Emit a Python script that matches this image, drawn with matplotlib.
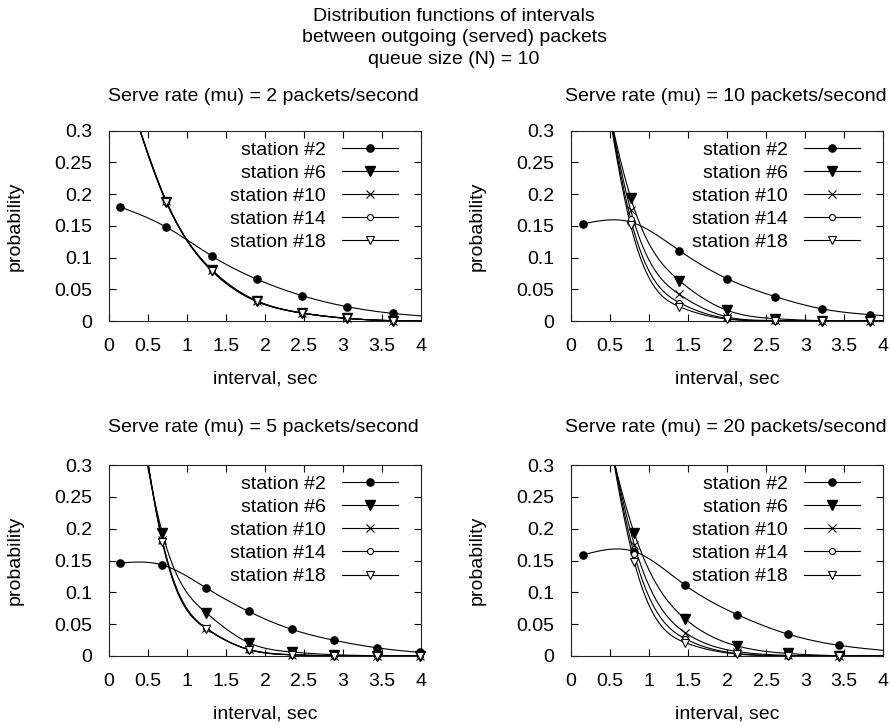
import numpy as np
import matplotlib
matplotlib.use("Agg")
import matplotlib.pyplot as plt
from matplotlib.lines import Line2D

plt.rcParams['font.family'] = ['Liberation Sans', 'DejaVu Sans']

# ---------------- data ----------------
stations = ["station #2", "station #6", "station #10", "station #14", "station #18"]
titles = ["Serve rate (mu) = 2 packets/second", "Serve rate (mu) = 10 packets/second",
          "Serve rate (mu) = 5 packets/second", "Serve rate (mu) = 20 packets/second"]
suptitle = "Distribution functions of intervals\nbetween outgoing (served) packets\nqueue size (N) = 10"
xticks = [0, 0.5, 1, 1.5, 2, 2.5, 3, 3.5, 4]
xtick_labels = ["0", "0.5", "1", "1.5", "2", "2.5", "3", "3.5", "4"]
yticks = [0, 0.05, 0.1, 0.15, 0.2, 0.25, 0.3]
ytick_labels = ["0", "0.05", "0.1", "0.15", "0.2", "0.25", "0.3"]

# mu = 2
x_mu2 = [0.141, 0.735, 1.316, 1.893, 2.474, 3.05, 3.637, 4.22]
mu2_s2 = [0.180, 0.148, 0.1025, 0.066, 0.040, 0.0226, 0.012, 0.006]
mu2_s6 = [0.40, 0.188, 0.080, 0.0315, 0.0126, 0.0042, 0.0005, 0.0001]
mu2_s10 = [0.402, 0.189, 0.080, 0.031, 0.0125, 0.0040, 0.0006, 0.0001]
mu2_s14 = [0.401, 0.187, 0.081, 0.032, 0.0127, 0.0043, 0.0005, 0.0]
mu2_s18 = [0.400, 0.188, 0.079, 0.031, 0.0124, 0.0041, 0.0004, 0.0]

# mu = 10
x_mu10 = [0.149, 0.764, 1.387, 2.0, 2.616, 3.22, 3.83, 4.44]
mu10_s2 = [0.153, 0.156, 0.111, 0.0667, 0.0384, 0.019, 0.010, 0.005]
mu10_s6 = [0.55, 0.1945, 0.0636, 0.0168, 0.0037, 0.0005, 0.0, 0.0]
mu10_s10 = [0.59, 0.175, 0.042, 0.0065, 0.001, 0.0, 0.0, 0.0]
mu10_s14 = [0.61, 0.161, 0.029, 0.004, 0.0005, 0.0, 0.0, 0.0]
mu10_s18 = [0.62, 0.151, 0.0226, 0.003, 0.0003, 0.0, 0.0, 0.0]

# mu = 5
x_mu5 = [0.141, 0.684, 1.244, 1.79, 2.34, 2.89, 3.43, 3.99, 4.54]
mu5_s2 = [0.146, 0.143, 0.107, 0.070, 0.042, 0.0246, 0.013, 0.0058, 0.003]
mu5_s6 = [0.56, 0.193, 0.068, 0.021, 0.0063, 0.002, 0.0005, 0.0, 0.0]
mu5_s10 = [0.62, 0.182, 0.0435, 0.0105, 0.002, 0.0003, 0.0, 0.0, 0.0]
mu5_s14 = [0.625, 0.180, 0.044, 0.010, 0.002, 0.0003, 0.0, 0.0, 0.0]
mu5_s18 = [0.63, 0.179, 0.043, 0.0102, 0.0018, 0.0002, 0.0, 0.0, 0.0]

# mu = 20
x_mu20 = [0.158, 0.81, 1.464, 2.13, 2.775, 3.43, 4.08]
mu20_s2 = [0.159, 0.164, 0.111, 0.065, 0.0345, 0.0168, 0.008]
mu20_s6 = [0.52, 0.193, 0.058, 0.0157, 0.004, 0.0005, 0.0]
mu20_s10 = [0.57, 0.175, 0.0366, 0.007, 0.001, 0.0, 0.0]
mu20_s14 = [0.60, 0.160, 0.027, 0.004, 0.0005, 0.0, 0.0]
mu20_s18 = [0.62, 0.148, 0.021, 0.003, 0.0003, 0.0, 0.0]

panels = [
    (x_mu2, [mu2_s2, mu2_s6, mu2_s10, mu2_s14, mu2_s18]),
    (x_mu10, [mu10_s2, mu10_s6, mu10_s10, mu10_s14, mu10_s18]),
    (x_mu5, [mu5_s2, mu5_s6, mu5_s10, mu5_s14, mu5_s18]),
    (x_mu20, [mu20_s2, mu20_s6, mu20_s10, mu20_s14, mu20_s18]),
]

# ---------------- style ----------------
markers = [
    dict(marker='o', ms=5.2, mfc='black', mec='black'),
    dict(marker='v', ms=6.8, mfc='black', mec='black'),
    dict(marker='x', ms=6.0, mfc='black', mec='black', mew=0.8),
    dict(marker='o', ms=4.3, mfc='white', mec='black', mew=0.8),
    dict(marker='v', ms=6.0, mfc='white', mec='black', mew=0.8),
]
FS = 14


def natural_cspline(x, y, n=400):
    x = np.asarray(x, float)
    y = np.asarray(y, float)
    h = np.diff(x)
    m = len(x)
    M = np.zeros(m)
    if m > 2:
        A = np.zeros((m - 2, m - 2))
        r = np.zeros(m - 2)
        for i in range(1, m - 1):
            k = i - 1
            A[k, k] = 2 * (h[i - 1] + h[i])
            if k > 0:
                A[k, k - 1] = h[i - 1]
            if k < m - 3:
                A[k, k + 1] = h[i]
            r[k] = 6 * ((y[i + 1] - y[i]) / h[i] - (y[i] - y[i - 1]) / h[i - 1])
        M[1:-1] = np.linalg.solve(A, r)
    xs = np.linspace(x[0], x[-1], n)
    idx = np.clip(np.searchsorted(x, xs) - 1, 0, m - 2)
    x0, x1 = x[idx], x[idx + 1]
    hh = x1 - x0
    a = (x1 - xs) / hh
    b = (xs - x0) / hh
    ys = (a * y[idx] + b * y[idx + 1]
          + ((a ** 3 - a) * M[idx] + (b ** 3 - b) * M[idx + 1]) * hh ** 2 / 6)
    return xs, ys


fig = plt.figure(figsize=(8.91, 7.26), dpi=100)
W, H = 891.0, 726.0
# axes boxes in pixel coords (left, top, right, bottom)
boxes = [(109, 130.7, 421, 321), (571, 130.7, 883.3, 321),
         (109, 465, 421, 656), (571, 465, 883.3, 656)]
title_gap = [34.0, 34.0, 38.0, 38.0]

fig.text(454 / W, 1 - 38.0 / H, suptitle, ha='center', va='center',
         fontsize=FS, linespacing=1.31)

for p, (box, (xv, series), title) in enumerate(zip(boxes, panels, titles)):
    l, t, r, b = box
    ax = fig.add_axes([l / W, 1 - b / H, (r - l) / W, (b - t) / H])
    xa = np.asarray(xv)
    for s, (yv, mk) in enumerate(zip(series, markers)):
        xs, ys = natural_cspline(xv, yv)
        ax.plot(xs, ys, color='black', lw=0.8, zorder=2)
        ya = np.asarray(yv)
        vis = (xa <= 4.02) & (ya <= 0.3)
        ax.plot(xa[vis], ya[vis], ls='none', clip_on=False, zorder=3, **mk)
    ax.set_xlim(0, 4)
    ax.set_ylim(0, 0.3)
    ax.set_xticks(xticks)
    ax.set_xticklabels(xtick_labels)
    ax.set_yticks(yticks)
    ax.set_yticklabels(ytick_labels)
    ax.tick_params(direction='in', top=True, right=True, length=5, width=0.8,
                   labelsize=FS, colors='black')
    ax.tick_params(axis='x', pad=12.5)
    ax.tick_params(axis='y', pad=12)
    for sp in ax.spines.values():
        sp.set_linewidth(0.8)
        sp.set_color('#222222')
    ph = b - t
    pw = r - l
    ax.text(0.495, 1 + title_gap[p] / ph, title, transform=ax.transAxes,
            ha='center', va='center', fontsize=FS)
    ax.text(0.5, -58.0 / ph, "interval, sec", transform=ax.transAxes,
            ha='center', va='center', fontsize=FS)
    ax.text(-94 / pw, 0.5, "probability", transform=ax.transAxes, rotation=90,
            ha='center', va='center', fontsize=FS)
    handles = [Line2D([], [], color='black', lw=0.8, **mk) for mk in markers]
    ax.legend(handles, stations, loc='upper right',
              bbox_to_anchor=(1 - 23 / pw, 1 - 10.5 / ph), frameon=False,
              markerfirst=False, borderpad=0, borderaxespad=0,
              handlelength=56 / 19.4, handletextpad=16 / 19.4,
              labelspacing=0.28, fontsize=FS, numpoints=1)

fig.savefig("out.png", dpi=100)
